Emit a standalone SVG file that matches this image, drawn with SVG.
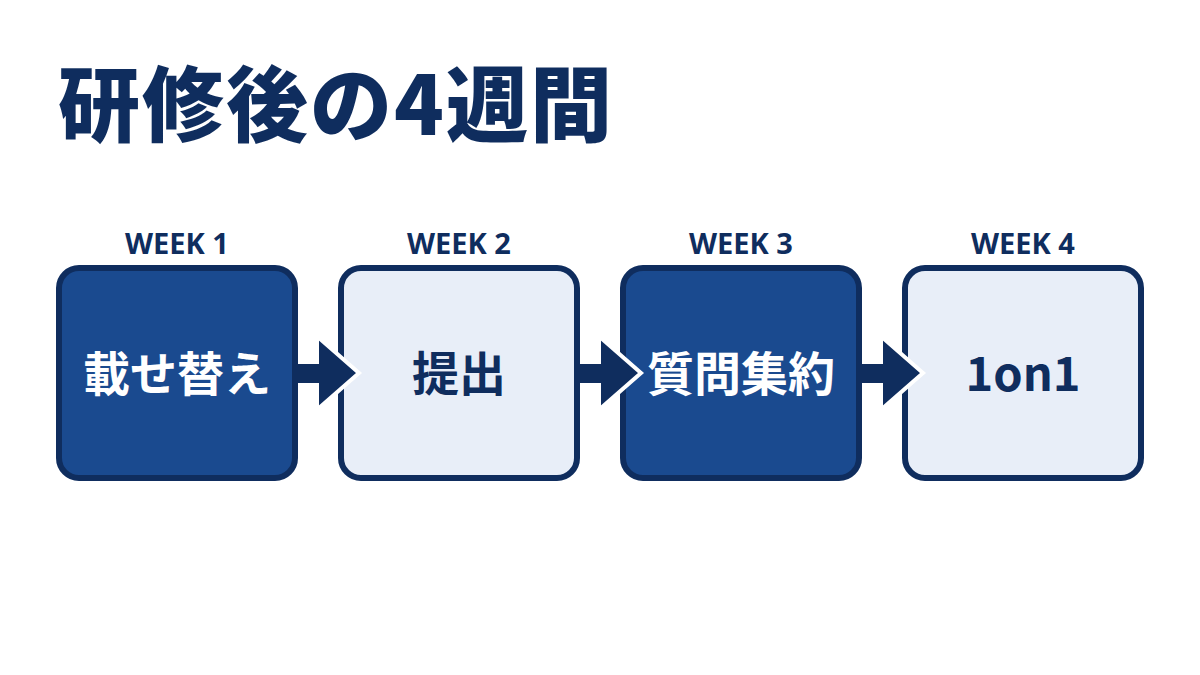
<svg xmlns="http://www.w3.org/2000/svg" width="1200" height="675" viewBox="0 0 1200 675">
<style>
.title{font-family:"Noto Sans CJK JP","Noto Sans",sans-serif;font-weight:900;font-size:82px;letter-spacing:2px;fill:#0f2d5e}
.wk{font-family:"Noto Sans","Open Sans",sans-serif;font-weight:700;font-size:29px;fill:#0f2d5e;text-anchor:middle}
.dark rect{fill:#1a4a8f;stroke:#0f2d5e;stroke-width:6}
.light rect{fill:#e8eef8;stroke:#0f2d5e;stroke-width:6}
.lbl{font-family:"Noto Sans CJK JP","Noto Sans",sans-serif;font-weight:700;font-size:47px;text-anchor:middle}
.dark .lbl{fill:#ffffff}
.light .lbl{fill:#0f2d5e}
.arrow{fill:#0f2d5e}
.edge{fill:none;stroke:#ffffff;stroke-width:4;stroke-linejoin:miter}
</style>
<rect width="1200" height="675" fill="#ffffff"/>
<text class="title" x="58" y="135">研修後の4週間</text>
<g id="week1" class="dark">
<text class="wk" x="177" y="254">WEEK 1</text>
<rect x="59" y="268" width="236" height="210" rx="20"/>
<text class="lbl" x="177" y="391">載せ替え</text>
</g>
<g id="week2" class="light">
<text class="wk" x="459" y="254">WEEK 2</text>
<rect x="341" y="268" width="236" height="210" rx="20"/>
<text class="lbl" x="459" y="391">提出</text>
</g>
<g id="week3" class="dark">
<text class="wk" x="741" y="254">WEEK 3</text>
<rect x="623" y="268" width="236" height="210" rx="20"/>
<text class="lbl" x="741" y="391">質問集約</text>
</g>
<g id="week4" class="light">
<text class="wk" x="1023" y="254">WEEK 4</text>
<rect x="905" y="268" width="236" height="210" rx="20"/>
<text class="lbl" x="1023" y="391">1on1</text>
</g>
<g id="connectors">
<path class="arrow" d="M296,364 H319 V338 L359,373 L319,408 V383 H296 Z"/>
<path class="edge" d="M319,338 L359,373 L319,408"/>
<path class="arrow" d="M578,364 H601 V338 L641,373 L601,408 V383 H578 Z"/>
<path class="edge" d="M601,338 L641,373 L601,408"/>
<path class="arrow" d="M860,364 H883 V338 L923,373 L883,408 V383 H860 Z"/>
<path class="edge" d="M883,338 L923,373 L883,408"/>
</g>
</svg>
